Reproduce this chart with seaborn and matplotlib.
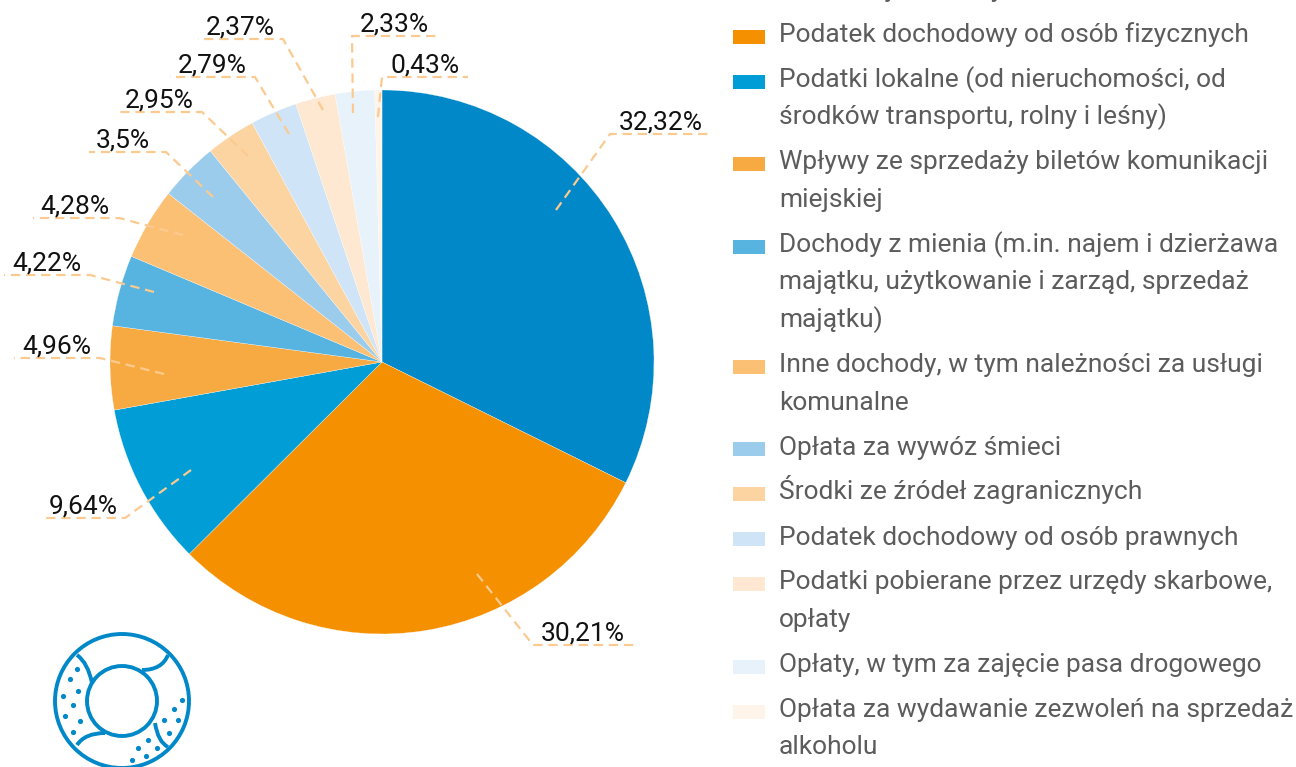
import numpy as np
import matplotlib
matplotlib.use("Agg")
import matplotlib.pyplot as plt
import seaborn as sns
from matplotlib.patches import Circle, PathPatch, Rectangle
from matplotlib.path import Path

W, H = 1296, 767

values = [32.32, 30.21, 9.64, 4.96, 4.22, 4.28, 3.5, 2.95, 2.79, 2.37, 2.33, 0.43]
value_labels = ["32,32%", "30,21%", "9,64%", "4,96%", "4,22%", "4,28%",
                "3,5%", "2,95%", "2,79%", "2,37%", "2,33%", "0,43%"]
categories = [
    "Subwencje i dotacje",
    "Podatek dochodowy od osób fizycznych",
    "Podatki lokalne (od nieruchomości, od\nśrodków transportu, rolny i leśny)",
    "Wpływy ze sprzedaży biletów komunikacji\nmiejskiej",
    "Dochody z mienia (m.in. najem i dzierżawa\nmajątku, użytkowanie i zarząd, sprzedaż\nmajątku)",
    "Inne dochody, w tym należności za usługi\nkomunalne",
    "Opłata za wywóz śmieci",
    "Środki ze źródeł zagranicznych",
    "Podatek dochodowy od osób prawnych",
    "Podatki pobierane przez urzędy skarbowe,\nopłaty",
    "Opłaty, w tym za zajęcie pasa drogowego",
    "Opłata za wydawanie zezwoleń na sprzedaż\nalkoholu",
]
colors = ["#0088c8", "#f59100", "#009dd6", "#f8aa42", "#57b3e0", "#fbc074",
          "#9ccceb", "#fbd4a2", "#cfe4f6", "#fee8d2", "#e7f2fb", "#fef4e9"]

# leader lines and labels, pixels from top left
inner_x = [556, 477, 191, 164, 154, 183, 213, 248, 289, 323, 353, 378]
inner_y = [210, 574, 470, 374, 292, 235, 197, 156, 134, 110, 113, 117]
elbow_x = [610, 533, 125, 100, 90, 119, 166, 202, 255, 283, 352, 382]
elbow_y = [134, 645, 518, 358, 275, 218, 152, 112, 77, 39, 36, 77]
end_x = [712, 634, 41, 14, 4, 33, 89, 117, 170, 198, 437, 468]
label_x = [661, 583, 83, 57, 47, 75, 123, 159, 212, 240, 394, 425]

# icon, in pixels
icon_curves = [[(77, 655), (88, 663), (92, 683)], [(168, 655), (162, 670), (142, 670)],
               [(155, 723), (158, 742), (168, 747)], [(77, 745), (85, 733), (105, 733)]]
icon_dots_x = [77, 70, 78, 63, 73, 65, 80, 73, 182, 174, 164, 178, 169, 148, 138, 157, 146, 132]
icon_dots_y = [669, 679, 691, 696, 705, 716, 721, 732, 700, 709, 720, 720, 733, 740, 748, 748, 756, 760]

sns.set_theme(style="white")
plt.rcParams["font.family"] = ["Roboto", "DejaVu Sans"]
palette = sns.color_palette(colors)

fig = plt.figure(figsize=(W / 100, H / 100), dpi=100)
ax = fig.add_axes([0, 0, 1, 1])

cx, cy, R = 382, H - 362, 272
wedges, _ = ax.pie(values, colors=palette, startangle=90, counterclock=False,
                   center=(cx, cy), radius=R, frame=True,
                   wedgeprops={"edgecolor": "white", "linewidth": 0.2})
ax.set_xlim(0, W)
ax.set_ylim(0, H)
ax.set_aspect("equal")
ax.axis("off")

# dashed leaders and value labels
dash_col = "#fbca90"
for i in range(len(values)):
    ey = H - elbow_y[i]
    ax.plot([inner_x[i], elbow_x[i], end_x[i]], [H - inner_y[i], ey, ey], color=dash_col,
            lw=1.6, dashes=(4.2, 2.6), zorder=4)
    ax.text(label_x[i], ey + 4.5, value_labels[i], ha="center", va="baseline",
            fontsize=19, color="#111111", zorder=5)

# legend, drawn by hand so the swatch sits on the first line of each entry
line_h = 37.5
gap = 7.5
base = -3
for name, col in zip(categories, palette):
    lines = name.split("\n")
    ax.add_patch(Rectangle((733, H - (base - 5.5) - 7), 32, 14, color=col, lw=0))
    for k, ln in enumerate(lines):
        ax.text(779, H - (base + k * line_h), ln, fontsize=19, color="#5c5c5c",
                ha="left", va="baseline")
    base += len(lines) * line_h + gap

# lifebuoy icon, cut off on the right
clip = Rectangle((0, 0), 191, H, transform=ax.transData)
icon_col = "#0088c8"
ix, iy = 122, H - 701
icon_parts = [Circle((ix, iy), 67, fill=False, ec=icon_col, lw=2.8),
              Circle((ix, iy), 35, fill=False, ec=icon_col, lw=2.8)]
for c in icon_curves:
    verts = [(x, H - y) for x, y in c]
    icon_parts.append(PathPatch(Path(verts, [Path.MOVETO, Path.CURVE3, Path.CURVE3]),
                                fill=False, ec=icon_col, lw=2.8))
for p in icon_parts:
    ax.add_patch(p)
    p.set_clip_path(clip)
dots = ax.scatter(icon_dots_x, H - np.array(icon_dots_y), s=14, color=icon_col, lw=0)
dots.set_clip_path(clip)

fig.savefig("out.png", dpi=100)
